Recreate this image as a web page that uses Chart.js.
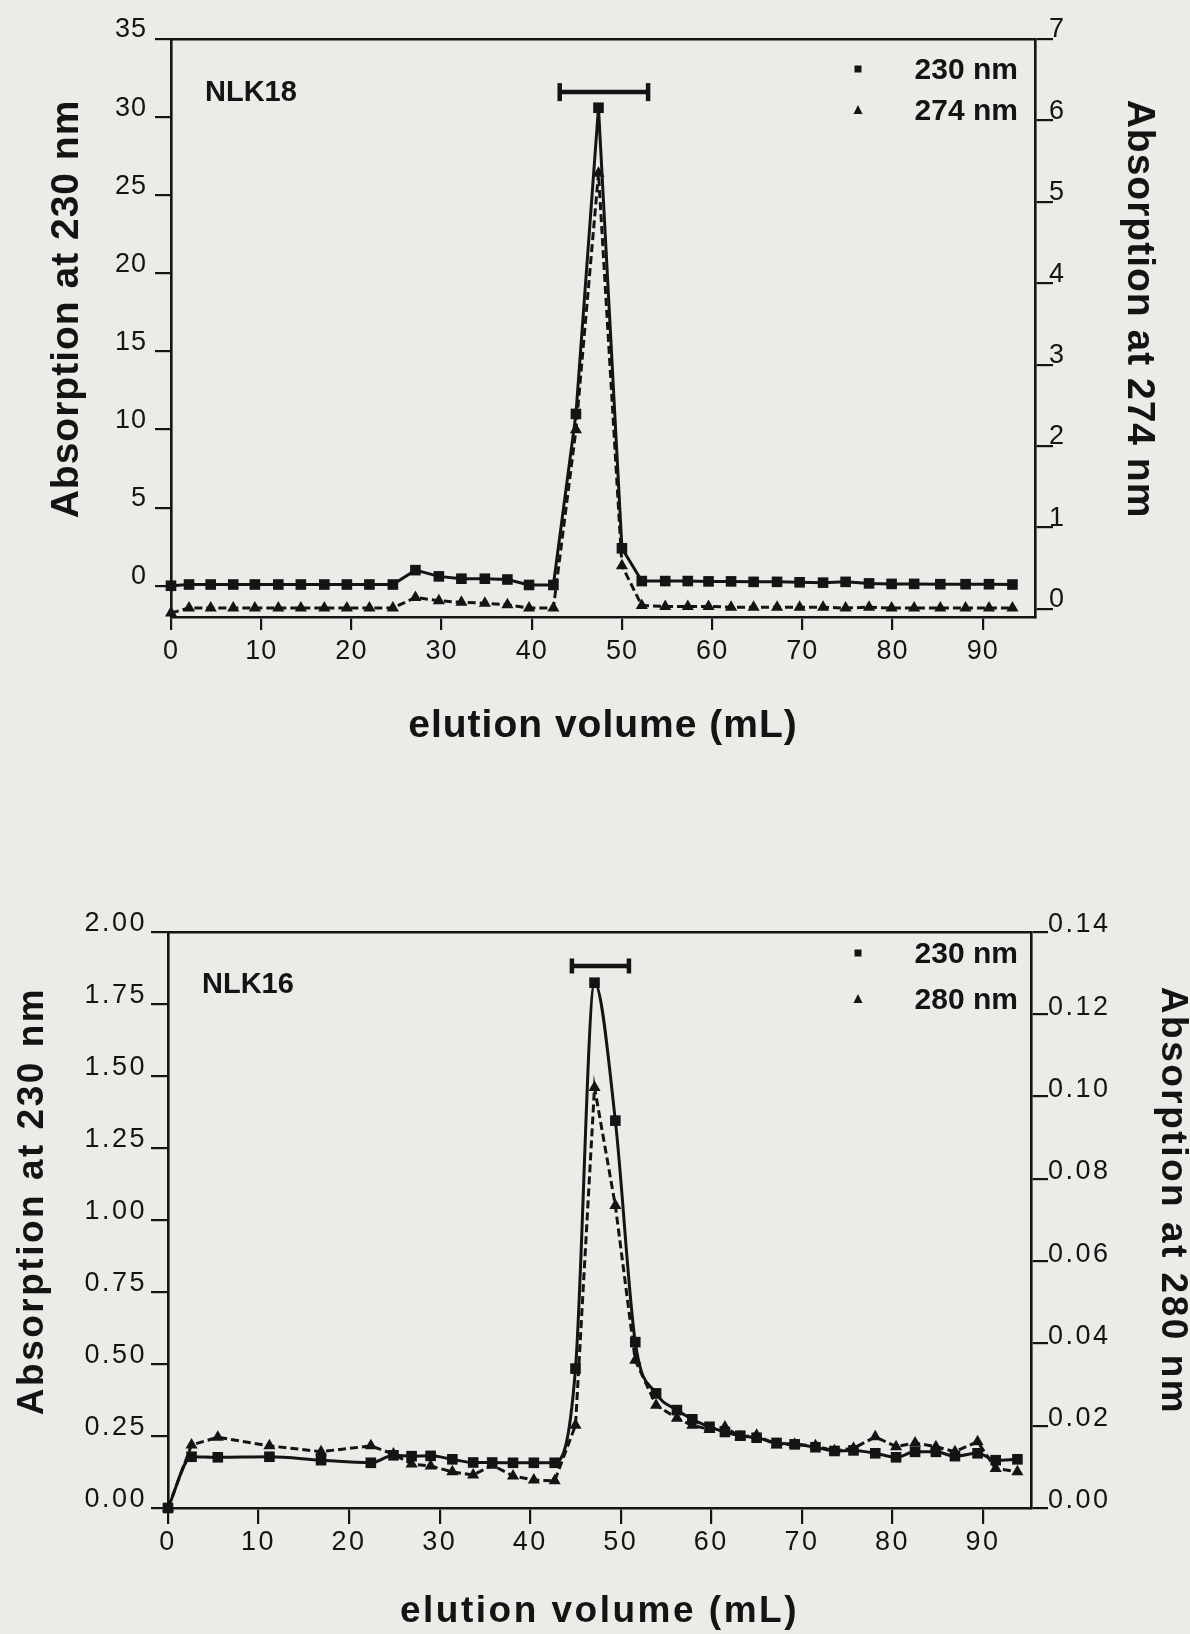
<!DOCTYPE html>
<html>
<head>
<meta charset="utf-8">
<script src="https://cdn.jsdelivr.net/npm/chart.js"></script>
<style>
  html, body { margin: 0; padding: 0; background: #ebebe8; }
  body { width: 1190px; height: 1634px; position: relative; overflow: hidden; }
  canvas { position: absolute; left: 0; }
  #nlk18 { top: 0; }
  #nlk16 { top: 830px; }
</style>
</head>
<body>
<canvas id="nlk18" width="1190" height="780"></canvas>
<canvas id="nlk16" width="1190" height="804"></canvas>
<script>
// NLK18 run (elution volume in mL, absorbance at 230 and 274 nm)
var vol18 = [0, 2.0, 4.4, 6.9, 9.3, 11.9, 14.4, 17.0, 19.5, 22.0, 24.6, 27.1, 29.7, 32.2, 34.8, 37.3, 39.7, 42.4, 44.9, 47.4,
  50.0, 52.2, 54.8, 57.3, 59.6, 62.1, 64.6, 67.2, 69.7, 72.3, 74.8, 77.4, 79.9, 82.4, 85.3, 88.1, 90.7, 93.3];
var nlk18_230 = [0, 0.08, 0.08, 0.08, 0.08, 0.08, 0.08, 0.08, 0.08, 0.08, 0.08, 1.0, 0.6, 0.45, 0.45, 0.4, 0.05, 0.05, 11.0, 30.6,
  2.4, 0.3, 0.3, 0.3, 0.28, 0.28, 0.25, 0.25, 0.22, 0.2, 0.25, 0.15, 0.12, 0.12, 0.1, 0.1, 0.1, 0.08];
var nlk18_274 = [-0.05, 0.01, 0.01, 0.01, 0.01, 0.01, 0.01, 0.01, 0.01, 0.01, 0.01, 0.14, 0.1, 0.08, 0.07, 0.05, 0.01, 0.01, 2.2, 5.35,
  0.53, 0.04, 0.03, 0.03, 0.03, 0.02, 0.02, 0.02, 0.02, 0.02, 0.01, 0.02, 0.01, 0.01, 0.01, 0.01, 0.01, 0.01];
var pool18 = [43.1, 52.9];   // pooled fractions bar
var poolY18 = 31.6;

// NLK16 run (absorbance at 230 and 280 nm)
var vol16 = [0, 2.6, 5.5, 11.2, 16.9, 22.4, 24.9, 26.9, 29.0, 31.4, 33.7, 35.8, 38.1, 40.4, 42.7, 45.0, 47.1, 49.4, 51.6, 53.9,
  56.2, 57.9, 59.8, 61.5, 63.2, 65.0, 67.2, 69.2, 71.5, 73.6, 75.7, 78.1, 80.4, 82.5, 84.8, 86.9, 89.4, 91.4, 93.8];
var nlk16_230 = [0, 0.178, 0.176, 0.178, 0.166, 0.157, 0.183, 0.18, 0.181, 0.169, 0.158, 0.158, 0.157, 0.157, 0.157, 0.484, 1.824, 1.345, 0.576, 0.398,
  0.34, 0.308, 0.282, 0.264, 0.251, 0.244, 0.226, 0.221, 0.211, 0.198, 0.2, 0.19, 0.176, 0.195, 0.195, 0.18, 0.19, 0.166, 0.169];
var nlk16_280 = [0, 0.0153, 0.0172, 0.0151, 0.0137, 0.0151, 0.0131, 0.0107, 0.0102, 0.0088, 0.008, 0.0104, 0.0078, 0.0068, 0.0066, 0.0201, 0.1022, 0.0735, 0.0359, 0.025,
  0.0218, 0.0201, 0.0191, 0.0197, 0.0173, 0.0177, 0.0153, 0.0155, 0.0151, 0.0139, 0.0145, 0.0173, 0.0149, 0.0158, 0.0149, 0.0137, 0.0161, 0.0096, 0.0088];
var pool16 = [44.6, 50.9];
var poolY16 = 1.882;

// tick labels
var xTicks = [0, 10, 20, 30, 40, 50, 60, 70, 80, 90];
var leftTicks18 = [0, 5, 10, 15, 20, 25, 30, 35];
var rightTicks18 = [0, 1, 2, 3, 4, 5, 6, 7];
var leftTicks16 = [0, 0.25, 0.5, 0.75, 1.0, 1.25, 1.5, 1.75, 2.0];
var rightTicks16 = [0, 0.02, 0.04, 0.06, 0.08, 0.10, 0.12, 0.14];

var FONT = '"Liberation Sans", Arial, Helvetica, sans-serif';
var INK = '#141414';

function pts(xs, ys) {
  return xs.map(function (x, i) { return { x: x, y: ys[i] }; });
}
function fixedTicks(values) {
  return function (scale) { scale.ticks = values.map(function (v) { return { value: v }; }); };
}

// letter spacing for axis text, the side titles, the run tag and the legend inside the plot
var extras = {
  id: 'extras',
  beforeDraw: function (chart, args, opts) {
    if ('letterSpacing' in chart.ctx) chart.ctx.letterSpacing = opts.spacing + 'px';
  },
  afterDraw: function (chart, args, opts) {
    var ctx = chart.ctx, a = chart.chartArea;
    var midY = (a.top + a.bottom) / 2 + opts.titleDy;
    ctx.save();
    ctx.fillStyle = INK;
    ctx.textBaseline = 'middle';
    ctx.textAlign = 'center';
    ctx.font = 'bold ' + opts.titleSize + 'px ' + FONT;
    [[opts.leftTitle, a.left - opts.leftTitleDx, -Math.PI / 2],
     [opts.rightTitle, a.right + opts.rightTitleDx, Math.PI / 2]].forEach(function (t) {
      ctx.save();
      ctx.translate(t[1], midY);
      ctx.rotate(t[2]);
      ctx.fillText(t[0], 0, 0);
      ctx.restore();
    });

    if ('letterSpacing' in ctx) ctx.letterSpacing = '0px';
    ctx.font = 'bold 29px ' + FONT;
    ctx.textAlign = 'left';
    ctx.fillText(opts.tag, a.left + 34, a.top + opts.tagDy);

    ctx.font = 'bold 30px ' + FONT;
    ctx.textAlign = 'right';
    var mx = a.right - opts.markerDx;
    chart.data.datasets.slice(0, 2).forEach(function (ds, i) {
      var y = a.top + opts.rows[i];
      ctx.beginPath();
      if (ds.pointStyle === 'rect') {
        ctx.rect(mx - 3.5, y - 3.5, 7, 7);
      } else {
        ctx.moveTo(mx, y - 5);
        ctx.lineTo(mx + 4.5, y + 4);
        ctx.lineTo(mx - 4.5, y + 4);
        ctx.closePath();
      }
      ctx.fill();
      ctx.fillText(ds.label, a.right - opts.textDx, y + 2);
    });
    ctx.restore();
  }
};

function drawChart(id, run) {
  var g = run.geom;
  function font(size, bold) {
    return { family: FONT, size: size, weight: bold ? 'bold' : 'normal', lineHeight: 1 };
  }
  function tickOpts(pad, off, decimals) {
    return {
      color: INK, font: font(g.tickSize), padding: pad, labelOffset: off, autoSkip: false, maxRotation: 0,
      callback: function (v) { return decimals ? Number(v).toFixed(decimals) : String(v); }
    };
  }
  function gridOpts(len) {
    return { drawOnChartArea: false, color: INK, lineWidth: 2.2, tickLength: len };
  }
  var border = { color: INK, width: 2.6 };

  return new Chart(document.getElementById(id), {
    type: 'line',
    data: {
      datasets: [{
        label: run.names[0],
        data: pts(run.vol, run.a),
        yAxisID: 'y',
        borderColor: INK,
        borderWidth: 3,
        pointStyle: 'rect',
        pointRadius: 7.5,
        pointBackgroundColor: INK,
        pointBorderWidth: 0,
        cubicInterpolationMode: run.smooth ? 'monotone' : 'default',
        clip: false
      }, {
        label: run.names[1],
        data: pts(run.vol, run.b),
        yAxisID: 'y1',
        borderColor: INK,
        borderWidth: 3,
        borderDash: [8, 4],
        pointStyle: 'triangle',
        pointRadius: 7,
        pointBackgroundColor: INK,
        pointBorderWidth: 0,
        clip: false
      }, {
        label: 'pool',
        data: [{ x: run.pool[0], y: run.poolY }, { x: run.pool[1], y: run.poolY }],
        yAxisID: 'y',
        borderColor: INK,
        borderWidth: 4.5,
        pointStyle: 'line',
        pointRotation: 90,
        pointRadius: run.cap,
        pointBorderWidth: 4.5,
        pointBorderColor: INK,
        clip: false
      }]
    },
    options: {
      responsive: false,
      animation: false,
      devicePixelRatio: 1,
      layout: { padding: { top: g.top, left: 0, right: 0, bottom: 0 } },
      plugins: {
        legend: { display: false },
        tooltip: { enabled: false },
        extras: {
          spacing: g.spacing, tag: run.tag, tagDy: g.tagDy, rows: g.rows, markerDx: g.markerDx, textDx: g.textDx,
          titleSize: g.titleSize, titleDy: -19, leftTitle: run.leftTitle, rightTitle: run.rightTitle,
          leftTitleDx: g.leftTitleDx, rightTitleDx: g.rightTitleDx
        }
      },
      scales: {
        x: {
          type: 'linear', position: 'bottom', min: 0, max: run.xMax,
          afterBuildTicks: fixedTicks(xTicks),
          afterFit: function (s) { s.height = g.bottomH; },
          grid: gridOpts(g.xTick), border: border,
          ticks: tickOpts(g.xPad, 0, 0),
          title: { display: true, text: 'elution volume (mL)', color: INK, font: font(g.titleSize, true), padding: { top: 0, bottom: g.xTitlePad } }
        },
        frame: {
          type: 'linear', position: 'top', min: 0, max: 1,
          afterFit: function (s) { s.height = 0; },
          grid: { drawOnChartArea: false, drawTicks: false }, border: border,
          ticks: { display: false }
        },
        y: {
          type: 'linear', position: 'left', min: run.yMin, max: run.yMax,
          afterBuildTicks: fixedTicks(run.leftTicks),
          afterFit: function (s) { s.width = g.leftW; },
          grid: gridOpts(g.leftTick), border: border,
          ticks: tickOpts(g.leftPad, g.leftOff, run.decimals)
        },
        y1: {
          type: 'linear', position: 'right', min: run.y1Min, max: run.y1Max,
          afterBuildTicks: fixedTicks(run.rightTicks),
          afterFit: function (s) { s.width = g.rightW; },
          grid: gridOpts(g.rightTick), border: border,
          ticks: tickOpts(g.rightPad, g.rightOff, run.decimals)
        }
      }
    },
    plugins: [extras]
  });
}

drawChart('nlk18', {
  vol: vol18, a: nlk18_230, b: nlk18_274, names: ['230 nm', '274 nm'], tag: 'NLK18',
  pool: pool18, poolY: poolY18, cap: 9,
  leftTicks: leftTicks18, rightTicks: rightTicks18,
  yMin: -2, yMax: 35, y1Min: -0.1, y1Max: 7, xMax: 95.8, decimals: 0, smooth: false,
  leftTitle: 'Absorption at 230 nm', rightTitle: 'Absorption at 274 nm',
  geom: {
    top: 39, leftW: 171, rightW: 155, bottomH: 163, spacing: 1, tickSize: 27, titleSize: 39,
    xTick: 13, xPad: 8, leftTick: 16, leftPad: 8, leftOff: -9, rightTick: 18, rightPad: -4, rightOff: -9,
    xTitlePad: 34, leftTitleDx: 104, rightTitleDx: 104,
    tagDy: 54, rows: [30, 71], markerDx: 177, textDx: 17
  }
});

drawChart('nlk16', {
  vol: vol16, a: nlk16_230, b: nlk16_280, names: ['230 nm', '280 nm'], tag: 'NLK16',
  pool: pool16, poolY: poolY16, cap: 7.5,
  leftTicks: leftTicks16, rightTicks: rightTicks16,
  yMin: 0, yMax: 2, y1Min: 0, y1Max: 0.14, xMax: 95.3, decimals: 2, smooth: true,
  leftTitle: 'Absorption at 230 nm', rightTitle: 'Absorption at 280 nm',
  geom: {
    top: 102, leftW: 168, rightW: 159, bottomH: 126, spacing: 2.5, tickSize: 27, titleSize: 37,
    xTick: 16, xPad: 5, leftTick: 17, leftPad: 4, leftOff: -8, rightTick: 17, rightPad: 0, rightOff: -7,
    xTitlePad: 4, leftTitleDx: 135, rightTitleDx: 141,
    tagDy: 53, rows: [21, 67], markerDx: 173, textDx: 13
  }
});
</script>
</body>
</html>
